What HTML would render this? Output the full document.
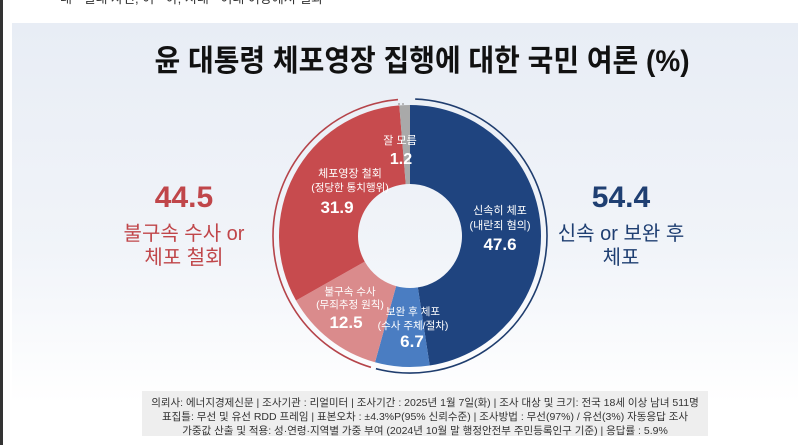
<!DOCTYPE html>
<html><head><meta charset="utf-8"><style>
html,body{margin:0;padding:0;width:798px;height:445px;overflow:hidden;background:#fff}
svg{display:block}
text{font-family:"Liberation Sans","Noto Sans CJK KR",sans-serif}
</style></head><body>
<svg width="798" height="445" viewBox="0 0 798 445" xmlns="http://www.w3.org/2000/svg">
<defs>
<linearGradient id="bg" x1="0" y1="0" x2="0" y2="1">
<stop offset="0" stop-color="#e8edf5"/><stop offset="0.6" stop-color="#f1f4f9"/><stop offset="1" stop-color="#ffffff"/>
</linearGradient>
</defs>
<rect x="0" y="0" width="798" height="445" fill="#fff"/>
<rect x="12" y="23" width="786" height="380" fill="url(#bg)"/>
<rect x="0" y="0" width="3" height="445" fill="#333"/>
<text x="60" y="3" font-size="13" fill="#333">대 · 일대 사건, 여 · 야, 시대 · 여대 여당에서 결과</text>
<text x="422" y="71" font-size="30" font-weight="bold" text-anchor="middle" fill="#111" textLength="535" lengthAdjust="spacingAndGlyphs">윤 대통령 체포영장 집행에 대한 국민 여론 (%)</text>

<g id="pie"></g>
<script>
(function(){
var cx=410,cy=236,R=131,r=52;
var vals=[[47.6,'#1f447f'],[6.7,'#4a7dc2'],[12.5,'#da8b8c'],[31.9,'#c74b4e'],[1.3,'#a9a9a9']];
var g=document.getElementById('pie');var a=0;var ns='http://www.w3.org/2000/svg';
function pt(rad,ang){var t=ang/100*2*Math.PI;return [cx+rad*Math.sin(t),cy-rad*Math.cos(t)];}
vals.forEach(function(v){var a2=a+v[0];var p1=pt(R,a),p2=pt(R,a2),p3=pt(r,a2),p4=pt(r,a);var lg=v[0]>50?1:0;
var p=document.createElementNS(ns,'path');
p.setAttribute('d','M'+p1+' A'+R+' '+R+' 0 '+lg+' 1 '+p2+' L'+p3+' A'+r+' '+r+' 0 '+lg+' 0 '+p4+'Z');
p.setAttribute('fill',v[1]);g.appendChild(p);a=a2;});
function arc(s,e,col,rad){var p1=pt(rad,s),p2=pt(rad,e);var lg=(e-s)>50?1:0;var p=document.createElementNS(ns,'path');
p.setAttribute('d','M'+p1+' A'+rad+' '+rad+' 0 '+lg+' 1 '+p2);p.setAttribute('fill','none');p.setAttribute('stroke',col);p.setAttribute('stroke-width','1.6');g.appendChild(p);}
arc(0.6,54.0,'#1f3d6e',137);
arc(54.6,98.6,'#b5444a',137);
})();
</script>
<line x1="398" y1="104" x2="405" y2="104" stroke="#999" stroke-width="1.2" stroke-dasharray="2 2"/>

<g font-weight="bold" text-anchor="middle" fill="#fff">
<text x="400" y="144" font-size="11" font-weight="normal">잘 모름</text>
<text x="401" y="164" font-size="16">1.2</text>
<text x="350" y="177" font-size="11" font-weight="normal">체포영장 철회</text>
<text x="350" y="191" font-size="10.5" font-weight="normal">(정당한 통치행위)</text>
<text x="337" y="213" font-size="17">31.9</text>
<text x="500" y="214" font-size="11" font-weight="normal">신속히 체포</text>
<text x="500" y="229" font-size="11" font-weight="normal">(내란죄 혐의)</text>
<text x="500" y="250" font-size="17">47.6</text>
<text x="350" y="295" font-size="10.5" font-weight="normal">불구속 수사</text>
<text x="350" y="308" font-size="10.5" font-weight="normal">(무죄추정 원칙)</text>
<text x="346" y="328" font-size="17">12.5</text>
<text x="413" y="315" font-size="10.5" font-weight="normal">보완 후 체포</text>
<text x="413" y="329" font-size="10.5" font-weight="normal">(수사 주체/절차)</text>
<text x="412" y="347" font-size="17">6.7</text>
</g>

<g text-anchor="middle">
<text x="184" y="207" font-size="30" font-weight="bold" fill="#c0464a">44.5</text>
<text x="184" y="240" font-size="20" fill="#c0464a">불구속 수사 or</text>
<text x="184" y="264" font-size="20" fill="#c0464a">체포 철회</text>
<text x="621" y="207" font-size="30" font-weight="bold" fill="#1f3f72">54.4</text>
<text x="621" y="240" font-size="20" fill="#1f3f72">신속 or 보완 후</text>
<text x="621" y="264" font-size="20" fill="#1f3f72">체포</text>
</g>

<rect x="142" y="391" width="566" height="45" fill="#eeeeee"/>
<g font-size="10.5" fill="#333" text-anchor="middle">
<text x="425" y="406">의뢰사: 에너지경제신문 | 조사기관 : 리얼미터 | 조사기간 : 2025년 1월 7일(화) | 조사 대상 및 크기: 전국 18세 이상 남녀 511명</text>
<text x="425" y="420">표집틀: 무선 및 유선 RDD 프레임 | 표본오차 : ±4.3%P(95% 신뢰수준) | 조사방법 : 무선(97%) / 유선(3%) 자동응답 조사</text>
<text x="425" y="434">가중값 산출 및 적용: 성·연령·지역별 가중 부여 (2024년 10월 말 행정안전부 주민등록인구 기준) | 응답률 : 5.9%</text>
</g>
</svg>
</body></html>
